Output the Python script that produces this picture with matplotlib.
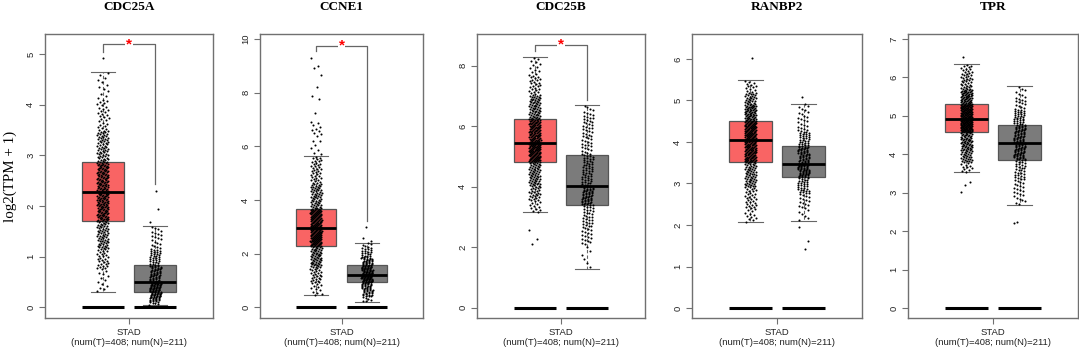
import numpy as np
import matplotlib
matplotlib.use("Agg")
import matplotlib.pyplot as plt

# gene panels
genes = ["CDC25A", "CCNE1", "CDC25B", "RANBP2", "TPR"]
n_tumor, n_normal = 408, 211

# quantiles at these probabilities
# (whisker low, p3, p10, q1, median, q3, p90, p97, whisker high)
probs = [0.0, 0.03, 0.10, 0.25, 0.50, 0.75, 0.90, 0.97, 1.0]

cdc25a_t = [0.30, 0.75, 1.15, 1.70, 2.27, 2.88, 3.50, 4.10, 4.65]
cdc25a_n = [0.05, 0.12, 0.20, 0.31, 0.50, 0.83, 1.15, 1.45, 1.60]
ccne1_t = [0.45, 0.90, 1.50, 2.27, 2.94, 3.66, 4.60, 5.30, 5.62]
ccne1_n = [0.20, 0.40, 0.60, 0.93, 1.20, 1.56, 1.90, 2.20, 2.41]
cdc25b_t = [3.15, 3.55, 4.05, 4.83, 5.46, 6.25, 7.00, 7.70, 8.28]
cdc25b_n = [1.27, 2.10, 2.60, 3.40, 4.01, 5.06, 6.00, 6.40, 6.70]
ranbp2_t = [2.07, 2.40, 2.90, 3.51, 4.04, 4.51, 4.90, 5.20, 5.49]
ranbp2_n = [2.10, 2.40, 2.75, 3.15, 3.48, 3.90, 4.30, 4.70, 4.92]
tpr_t = [3.54, 3.80, 4.10, 4.58, 4.91, 5.30, 5.70, 6.10, 6.34]
tpr_n = [2.69, 2.90, 3.30, 3.86, 4.29, 4.76, 5.15, 5.50, 5.77]

# points beyond the whiskers
cdc25a_t_out = [4.93]
cdc25a_n_out = [1.68, 1.95, 2.29]
ccne1_t_out = [9.29, 8.98, 8.90, 8.64, 8.21, 7.87, 7.74, 7.25, 6.90, 6.85,
               6.80, 6.72, 6.65, 6.60, 6.55, 6.50, 6.45, 6.38, 6.20, 6.18,
               6.05, 5.95, 5.85, 5.75, 5.70]
ccne1_n_out = [2.99, 2.57, 2.47]
cdc25b_t_out = [2.57, 2.27, 2.11]
cdc25b_n_out = []
ranbp2_t_out = [6.03]
ranbp2_n_out = [5.08, 1.96, 1.62, 1.43]
tpr_t_out = [6.52, 3.29, 3.19, 3.01]
tpr_n_out = [2.25, 2.22]

# significance bracket: top, left leg end, right leg end (None = not significant)
sig_top = [5.20, 9.75, 8.70, None, None]
sig_left = [5.05, 9.54, 8.50, None, None]
sig_right = [2.44, 3.21, 6.88, None, None]

ylims = [(-0.21, 5.40), (-0.40, 10.18), (-0.34, 9.05), (-0.24, 6.60), (-0.26, 7.13)]
yticks = [range(0, 6), range(0, 11, 2), range(0, 9, 2), range(0, 7), range(0, 8)]

tumor = [cdc25a_t, ccne1_t, cdc25b_t, ranbp2_t, tpr_t]
normal = [cdc25a_n, ccne1_n, cdc25b_n, ranbp2_n, tpr_n]
tumor_out = [cdc25a_t_out, ccne1_t_out, cdc25b_t_out, ranbp2_t_out, tpr_t_out]
normal_out = [cdc25a_n_out, ccne1_n_out, cdc25b_n_out, ranbp2_n_out, tpr_n_out]

W, H = 1079, 355
left_px = [45, 260, 477, 692, 908]
right_px = [213, 423, 645, 862, 1078]
top_px, bot_px = 34, 318

red = "#F96464"
grey = "#7B7B7B"
frame = "#707070"
serif = "Liberation Serif"
sans = "Liberation Sans"


def cloud(q, out, n):
    # spread the sample over the read quantiles, plus the extreme points
    n_in = n - len(out)
    p = (np.arange(n_in) + 0.5) / n_in
    y = np.interp(p, probs, q)
    return np.concatenate([y, np.array(out, dtype=float)])


fig = plt.figure(figsize=(W / 100, H / 100), dpi=100)

for i, g in enumerate(genes):
    ax = fig.add_axes([left_px[i] / W, 1 - bot_px / H,
                       (right_px[i] - left_px[i]) / W, (bot_px - top_px) / H])
    stats = []
    for q in (tumor[i], normal[i]):
        stats.append(dict(whislo=q[0], q1=q[3], med=q[4], q3=q[5], whishi=q[8]))
    bp = ax.bxp(stats, positions=[1, 2], widths=0.8, showfliers=False,
                patch_artist=True, capwidths=0.46,
                boxprops=dict(edgecolor="#555555", linewidth=0.9),
                medianprops=dict(color="black", linewidth=2.0),
                whiskerprops=dict(color="#666666", linewidth=0.8, linestyle=(0, (3, 2))),
                capprops=dict(color="#666666", linewidth=0.8))
    bp["boxes"][0].set_facecolor(red)
    bp["boxes"][1].set_facecolor(grey)

    # jittered samples
    for pos, q, out, n, phi in ((1, tumor[i], tumor_out[i], n_tumor, 0.6180340),
                                (2, normal[i], normal_out[i], n_normal, 0.7548777)):
        y = cloud(q, out, n)
        k = np.arange(len(y))
        jit = ((k * phi + 0.37 * i) % 1.0) * 2 - 1
        ax.scatter(pos + jit * 0.11, y, s=2.2, c="black", linewidths=0, zorder=3)

    # zero lines under each group
    for pos in (1, 2):
        ax.plot([pos - 0.4, pos + 0.4], [0, 0], color="black", lw=2.2,
                solid_capstyle="butt", zorder=3)

    # significance bracket
    if sig_top[i] is not None:
        ax.plot([1, 1, 2, 2], [sig_left[i], sig_top[i], sig_top[i], sig_right[i]],
                color="#666666", lw=0.9, zorder=2)
        ax.text(1.5, sig_top[i], "*", color="red", ha="center", va="center",
                fontsize=11, fontweight="bold", family=sans,
                bbox=dict(facecolor="white", edgecolor="none", pad=0.6), zorder=4)

    ax.set_xlim(-0.1, 3.1)
    ax.set_ylim(*ylims[i])
    ax.set_yticks(list(yticks[i]))
    ax.set_yticklabels([str(t) for t in yticks[i]], rotation=90, va="center",
                       fontsize=6.8, family=sans, color="#222222")
    ax.set_xticks([1.5])
    ax.set_xticklabels(["STAD\n(num(T)=408; num(N)=211)"], fontsize=6.8,
                       family=sans, color="#222222", linespacing=1.25)
    ax.tick_params(axis="both", direction="out", length=4, width=0.8,
                   color=frame, pad=3)
    for s in ax.spines.values():
        s.set_color(frame)
        s.set_linewidth(1.0)
    ax.set_title(g, fontsize=9.5, fontweight="bold", family=serif, pad=17)
    if i == 0:
        ax.set_ylabel("log2(TPM + 1)", fontsize=10.8, family=serif, labelpad=7)

fig.savefig("out.png", dpi=100)
